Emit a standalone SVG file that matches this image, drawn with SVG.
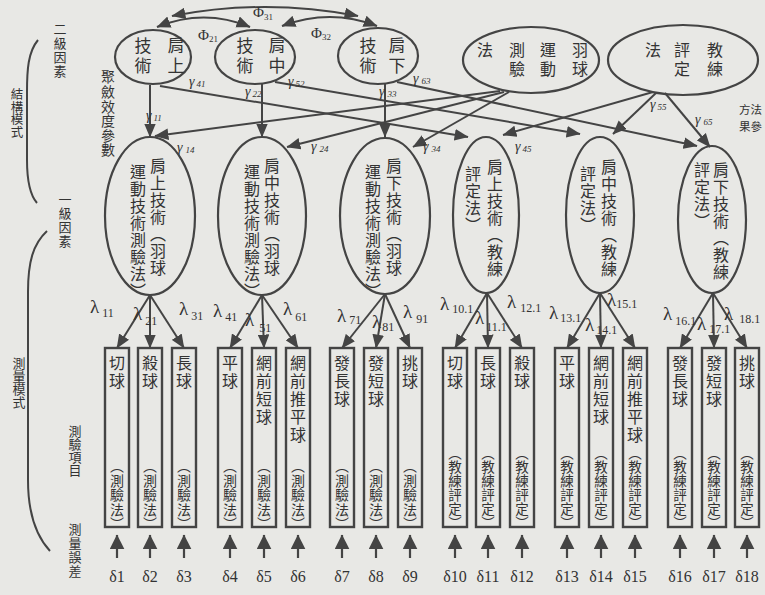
<svg xmlns="http://www.w3.org/2000/svg" width="765" height="595" viewBox="0 0 765 595">
<defs>
<style>
.bg{fill:#e8e8e5}
.ln{stroke:#444;stroke-width:2;fill:none}
.ar{stroke:#444;stroke-width:2;fill:none;marker-end:url(#ah)}
.ard{stroke:#444;stroke-width:2.2;fill:none;marker-end:url(#ahb)}
.ar2{stroke:#444;stroke-width:2;fill:none;marker-start:url(#ah);marker-end:url(#ah)}
.el{stroke:#444;stroke-width:2.2;fill:none}
.bx{stroke:#444;stroke-width:2.4;fill:none}
.cj{font-family:"Noto Sans CJK TC","Noto Sans CJK SC",sans-serif;fill:#333}
.v{writing-mode:vertical-rl}
.t17{font-size:17px;letter-spacing:3px}
.t16{font-size:16px;letter-spacing:1px}
.tn{font-size:16px;letter-spacing:2px}
.tm{font-size:14px;letter-spacing:0.5px}
.tk{font-size:13.5px;letter-spacing:0.6px}
.sd{font-size:13px;letter-spacing:1px}
.lat{font-family:"Liberation Serif",serif;fill:#333}
.lam{font-size:19px}
.ls{font-size:12px}
.gam{font-size:14px;font-style:italic}
.gs{font-size:9px}
.phi{font-size:15px}
.del{font-size:16px}
</style>
<marker id="ah" viewBox="0 0 12 10" refX="11.5" refY="5" markerWidth="14" markerHeight="12" markerUnits="userSpaceOnUse" orient="auto-start-reverse"><path d="M0,0 L12,5 L0,10 Z" fill="#444"/></marker>
<marker id="ahb" viewBox="0 0 12 12" refX="11.5" refY="6" markerWidth="15" markerHeight="15" markerUnits="userSpaceOnUse" orient="auto"><path d="M0,0 L12,6 L0,12 Z" fill="#444"/></marker>
</defs>
<rect class="bg" x="0" y="0" width="765" height="595"/>

<g id="side-labels">
<path class="ln" d="M38,40 C28,52 27,70 27,92 L27,160 C27,182 30,195 37,203"/>
<path class="ln" d="M47,231 C33,244 28,262 28,292 L28,480 C28,515 38,538 50,551"/>
<text class="cj v sd" x="60" y="23">二級因素</text>
<text class="cj v" style="font-size:12.5px" x="17" y="88">結構模式</text>
<text class="cj v" style="font-size:14px;letter-spacing:0.6px" x="108" y="70">聚斂效度參數</text>
<text class="cj v sd" x="65" y="193">一級因素</text>
<text class="cj v" style="font-size:13px" x="19" y="357">測量模式</text>
<text class="cj v" style="font-size:13px" x="75" y="425">測驗項目</text>
<text class="cj v sd" x="75" y="523">測量誤差</text>
<text class="cj" style="font-size:11.5px" x="739" y="114">方法</text>
<text class="cj" style="font-size:11.5px" x="739" y="131">果參</text>
</g>

<g id="connectors">
<!-- correlations -->
<path class="ar2" d="M172,16 Q265,-2 358,16"/>
<path class="ar2" d="M157,27 Q204,8 250,27"/>
<path class="ar2" d="M282,26 Q330,8 377,26"/>
<!-- gammas -->
<line class="ar" x1="150" y1="85" x2="150" y2="137"/>
<line class="ar" x1="262" y1="84" x2="262" y2="137"/>
<line class="ar" x1="385" y1="83" x2="385" y2="137"/>
<line class="ar" x1="160" y1="86" x2="468" y2="137"/>
<line class="ar" x1="275" y1="82" x2="580" y2="134"/>
<line class="ar" x1="397" y1="82" x2="697" y2="146"/>
<line class="ar" x1="500" y1="91" x2="155" y2="136"/>
<line class="ar" x1="504" y1="92" x2="287" y2="147"/>
<line class="ar" x1="509" y1="92" x2="413" y2="147"/>
<line class="ar" x1="653" y1="92" x2="503" y2="135"/>
<line class="ar" x1="656" y1="93" x2="613" y2="134"/>
<line class="ar" x1="665" y1="93" x2="710" y2="147"/>
<!-- lambdas -->
<line class="ar" x1="150" y1="295" x2="117" y2="348"/>
<line class="ar" x1="150" y1="295" x2="150" y2="348"/>
<line class="ar" x1="150" y1="295" x2="184" y2="348"/>
<line class="ar" x1="262" y1="295" x2="230" y2="348"/>
<line class="ar" x1="262" y1="295" x2="264" y2="348"/>
<line class="ar" x1="262" y1="295" x2="298" y2="348"/>
<line class="ar" x1="385" y1="294" x2="342" y2="348"/>
<line class="ar" x1="385" y1="294" x2="376" y2="348"/>
<line class="ar" x1="385" y1="294" x2="410" y2="348"/>
<line class="ar" x1="487" y1="293" x2="455" y2="348"/>
<line class="ar" x1="487" y1="293" x2="488" y2="348"/>
<line class="ar" x1="487" y1="293" x2="522" y2="348"/>
<line class="ar" x1="600" y1="293" x2="567" y2="348"/>
<line class="ar" x1="600" y1="293" x2="601" y2="348"/>
<line class="ar" x1="600" y1="293" x2="635" y2="348"/>
<line class="ar" x1="713" y1="293" x2="680" y2="348"/>
<line class="ar" x1="713" y1="293" x2="714" y2="348"/>
<line class="ar" x1="713" y1="293" x2="747" y2="348"/>
<!-- errors -->
<line class="ard" x1="117" y1="558" x2="117" y2="535"/>
<line class="ard" x1="150" y1="558" x2="150" y2="535"/>
<line class="ard" x1="184" y1="558" x2="184" y2="535"/>
<line class="ard" x1="230" y1="558" x2="230" y2="535"/>
<line class="ard" x1="264" y1="558" x2="264" y2="535"/>
<line class="ard" x1="298" y1="558" x2="298" y2="535"/>
<line class="ard" x1="342" y1="558" x2="342" y2="535"/>
<line class="ard" x1="376" y1="558" x2="376" y2="535"/>
<line class="ard" x1="410" y1="558" x2="410" y2="535"/>
<line class="ard" x1="455" y1="558" x2="455" y2="535"/>
<line class="ard" x1="488" y1="558" x2="488" y2="535"/>
<line class="ard" x1="522" y1="558" x2="522" y2="535"/>
<line class="ard" x1="567" y1="558" x2="567" y2="535"/>
<line class="ard" x1="601" y1="558" x2="601" y2="535"/>
<line class="ard" x1="635" y1="558" x2="635" y2="535"/>
<line class="ard" x1="680" y1="558" x2="680" y2="535"/>
<line class="ard" x1="714" y1="558" x2="714" y2="535"/>
<line class="ard" x1="747" y1="558" x2="747" y2="535"/>
</g>

<g id="connector-labels">
<text class="lat phi" x="198" y="40">Φ<tspan class="gs" dy="2">21</tspan></text>
<text class="lat phi" x="253" y="17">Φ<tspan class="gs" dy="3">31</tspan></text>
<text class="lat phi" x="311" y="38">Φ<tspan class="gs" dy="2">32</tspan></text>
<text class="lat gam" x="189" y="86">γ<tspan class="gs" dx="2" dy="1">41</tspan></text>
<text class="lat gam" x="288" y="86">γ<tspan class="gs" dx="2" dy="1">52</tspan></text>
<text class="lat gam" x="245" y="96">γ<tspan class="gs" dx="2" dy="1">22</tspan></text>
<text class="lat gam" x="379" y="96">γ<tspan class="gs" dx="3" dy="1">33</tspan></text>
<text class="lat gam" x="413" y="83">γ<tspan class="gs" dx="3" dy="1">63</tspan></text>
<text class="lat gam" x="146" y="120">γ<tspan class="gs" dx="2" dy="1">11</tspan></text>
<text class="lat gam" x="177" y="152">γ<tspan class="gs" dx="3" dy="1">14</tspan></text>
<text class="lat gam" x="311" y="151">γ<tspan class="gs" dx="3" dy="1">24</tspan></text>
<text class="lat gam" x="423" y="151">γ<tspan class="gs" dx="3" dy="1">34</tspan></text>
<text class="lat gam" x="515" y="151">γ<tspan class="gs" dx="2" dy="1">45</tspan></text>
<text class="lat gam" x="650" y="109">γ<tspan class="gs" dx="2" dy="1">55</tspan></text>
<text class="lat gam" x="695" y="124">γ<tspan class="gs" dx="3" dy="1">65</tspan></text>

<text class="lat lam" x="90" y="313">λ<tspan class="ls" dx="3" dy="4">11</tspan></text>
<text class="lat lam" x="133" y="320">λ<tspan class="ls" dx="3" dy="5">21</tspan></text>
<text class="lat lam" x="179" y="315">λ<tspan class="ls" dx="3" dy="5">31</tspan></text>
<text class="lat lam" x="213" y="317">λ<tspan class="ls" dx="3" dy="4">41</tspan></text>
<text class="lat lam" x="245" y="326">λ<tspan class="ls" dx="5" dy="6">51</tspan></text>
<text class="lat lam" x="283" y="315">λ<tspan class="ls" dx="3" dy="6">61</tspan></text>
<text class="lat lam" x="337" y="322">λ<tspan class="ls" dx="3" dy="2">71</tspan></text>
<text class="lat lam" x="372" y="328">λ<tspan class="ls" dx="1" dy="3">81</tspan></text>
<text class="lat lam" x="403" y="318">λ<tspan class="ls" dx="4" dy="5">91</tspan></text>
<text class="lat lam" x="440" y="310">λ<tspan class="ls" dx="3" dy="3">10.1</tspan></text>
<text class="lat lam" x="475" y="324">λ<tspan class="ls" dx="2" dy="7">11.1</tspan></text>
<text class="lat lam" x="507" y="308">λ<tspan class="ls" dx="4" dy="4">12.1</tspan></text>
<text class="lat lam" x="549" y="319">λ<tspan class="ls" dx="2" dy="3">13.1</tspan></text>
<text class="lat lam" x="585" y="331">λ<tspan class="ls" dx="2" dy="3">14.1</tspan></text>
<text class="lat lam" x="607" y="306">λ<tspan class="ls" dx="0" dy="2">15.1</tspan></text>
<text class="lat lam" x="663" y="320">λ<tspan class="ls" dx="3" dy="5">16.1</tspan></text>
<text class="lat lam" x="697" y="330">λ<tspan class="ls" dx="3" dy="3">17.1</tspan></text>
<text class="lat lam" x="724" y="320">λ<tspan class="ls" dx="6" dy="3">18.1</tspan></text>
</g>

<g id="factor-shoulder-high">
<ellipse class="el" cx="153" cy="57" rx="38" ry="27"/>
<text class="cj v t17" x="176" y="37">肩上</text>
<text class="cj v t17" x="143" y="37">技術</text>
</g>
<g id="factor-shoulder-mid">
<ellipse class="el" cx="255" cy="57" rx="40" ry="27"/>
<text class="cj v t17" x="277" y="37">肩中</text>
<text class="cj v t17" x="245" y="37">技術</text>
</g>
<g id="factor-shoulder-low">
<ellipse class="el" cx="378" cy="56" rx="40" ry="28"/>
<text class="cj v t17" x="397" y="37">肩下</text>
<text class="cj v t17" x="368" y="37">技術</text>
</g>
<g id="method-test">
<ellipse class="el" cx="531" cy="60" rx="68" ry="33"/>
<text class="cj v" style="font-size:16px;letter-spacing:3px" x="580" y="42">羽球</text>
<text class="cj v" style="font-size:16px;letter-spacing:3px" x="548" y="42">運動</text>
<text class="cj v" style="font-size:16px;letter-spacing:3px" x="517" y="42">測驗</text>
<text class="cj v" style="font-size:16px;letter-spacing:3px" x="485" y="42">法</text>
</g>
<g id="method-coach">
<ellipse class="el" cx="683" cy="60" rx="75" ry="35"/>
<text class="cj v" style="font-size:16px;letter-spacing:3px" x="715" y="42">教練</text>
<text class="cj v" style="font-size:16px;letter-spacing:3px" x="682" y="42">評定</text>
<text class="cj v" style="font-size:16px;letter-spacing:3px" x="653" y="42">法</text>
</g>

<g id="f1">
<ellipse class="el" cx="150" cy="216" rx="45" ry="79"/>
<text class="cj v t16" x="158" y="158">肩上技術（羽球</text>
<text class="cj v t16" x="138" y="164">運動技術測驗法）</text>
</g>
<g id="f2">
<ellipse class="el" cx="262" cy="216" rx="44" ry="79"/>
<text class="cj v t16" x="272" y="158">肩中技術（羽球</text>
<text class="cj v t16" x="252" y="164">運動技術測驗法）</text>
</g>
<g id="f3">
<ellipse class="el" cx="385" cy="216" rx="45" ry="78"/>
<text class="cj v t16" x="394" y="158">肩下技術（羽球</text>
<text class="cj v t16" x="373" y="164">運動技術測驗法）</text>
</g>
<g id="f4">
<ellipse class="el" cx="486" cy="215" rx="33" ry="78"/>
<text class="cj v t16" x="495" y="159">肩上技術（教練</text>
<text class="cj v t16" x="473" y="166">評定法）</text>
</g>
<g id="f5">
<ellipse class="el" cx="600" cy="215" rx="34" ry="78"/>
<text class="cj v t16" x="609" y="159">肩中技術（教練</text>
<text class="cj v t16" x="588" y="166">評定法）</text>
</g>
<g id="f6">
<ellipse class="el" cx="712" cy="219.5" rx="34" ry="73.5"/>
<text class="cj v t16" x="721" y="162">肩下技術（教練</text>
<text class="cj v t16" x="702" y="162">評定法）</text>
</g>

<g id="x1"><rect class="bx" x="105" y="348" width="24" height="179"/><text class="cj v tn" x="117" y="355">切球</text><text class="cj v tm" x="117" y="459">（測驗法）</text></g>
<g id="x2"><rect class="bx" x="138" y="348" width="24" height="179"/><text class="cj v tn" x="150" y="355">殺球</text><text class="cj v tm" x="150" y="459">（測驗法）</text></g>
<g id="x3"><rect class="bx" x="172" y="348" width="24" height="179"/><text class="cj v tn" x="184" y="355">長球</text><text class="cj v tm" x="184" y="459">（測驗法）</text></g>
<g id="x4"><rect class="bx" x="218" y="348" width="24" height="179"/><text class="cj v tn" x="230" y="355">平球</text><text class="cj v tm" x="230" y="459">（測驗法）</text></g>
<g id="x5"><rect class="bx" x="252" y="348" width="24" height="179"/><text class="cj v tn" x="264" y="355">網前短球</text><text class="cj v tm" x="264" y="459">（測驗法）</text></g>
<g id="x6"><rect class="bx" x="286" y="348" width="24" height="179"/><text class="cj v tn" x="298" y="355">網前推平球</text><text class="cj v tm" x="298" y="459">（測驗法）</text></g>
<g id="x7"><rect class="bx" x="330" y="348" width="24" height="179"/><text class="cj v tn" x="342" y="355">發長球</text><text class="cj v tm" x="342" y="459">（測驗法）</text></g>
<g id="x8"><rect class="bx" x="364" y="348" width="24" height="179"/><text class="cj v tn" x="376" y="355">發短球</text><text class="cj v tm" x="376" y="459">（測驗法）</text></g>
<g id="x9"><rect class="bx" x="398" y="348" width="24" height="179"/><text class="cj v tn" x="410" y="355">挑球</text><text class="cj v tm" x="410" y="459">（測驗法）</text></g>
<g id="x10"><rect class="bx" x="443" y="348" width="24" height="179"/><text class="cj v tn" x="455" y="355">切球</text><text class="cj v tk" x="455" y="446">（教練評定）</text></g>
<g id="x11"><rect class="bx" x="476" y="348" width="24" height="179"/><text class="cj v tn" x="488" y="355">長球</text><text class="cj v tk" x="488" y="446">（教練評定）</text></g>
<g id="x12"><rect class="bx" x="510" y="348" width="24" height="179"/><text class="cj v tn" x="522" y="355">殺球</text><text class="cj v tk" x="522" y="446">（教練評定）</text></g>
<g id="x13"><rect class="bx" x="555" y="348" width="24" height="179"/><text class="cj v tn" x="567" y="355">平球</text><text class="cj v tk" x="567" y="446">（教練評定）</text></g>
<g id="x14"><rect class="bx" x="589" y="348" width="24" height="179"/><text class="cj v tn" x="601" y="355">網前短球</text><text class="cj v tk" x="601" y="446">（教練評定）</text></g>
<g id="x15"><rect class="bx" x="623" y="348" width="24" height="179"/><text class="cj v tn" x="635" y="355">網前推平球</text><text class="cj v tk" x="635" y="446">（教練評定）</text></g>
<g id="x16"><rect class="bx" x="668" y="348" width="24" height="179"/><text class="cj v tn" x="680" y="355">發長球</text><text class="cj v tk" x="680" y="446">（教練評定）</text></g>
<g id="x17"><rect class="bx" x="702" y="348" width="24" height="179"/><text class="cj v tn" x="714" y="355">發短球</text><text class="cj v tk" x="714" y="446">（教練評定）</text></g>
<g id="x18"><rect class="bx" x="735" y="348" width="24" height="179"/><text class="cj v tn" x="747" y="355">挑球</text><text class="cj v tk" x="747" y="446">（教練評定）</text></g>

<g id="errors">
<text class="lat del" x="117" y="582" text-anchor="middle">δ1</text>
<text class="lat del" x="150" y="582" text-anchor="middle">δ2</text>
<text class="lat del" x="184" y="582" text-anchor="middle">δ3</text>
<text class="lat del" x="230" y="582" text-anchor="middle">δ4</text>
<text class="lat del" x="264" y="582" text-anchor="middle">δ5</text>
<text class="lat del" x="298" y="582" text-anchor="middle">δ6</text>
<text class="lat del" x="342" y="582" text-anchor="middle">δ7</text>
<text class="lat del" x="376" y="582" text-anchor="middle">δ8</text>
<text class="lat del" x="410" y="582" text-anchor="middle">δ9</text>
<text class="lat del" x="455" y="582" text-anchor="middle">δ10</text>
<text class="lat del" x="488" y="582" text-anchor="middle">δ11</text>
<text class="lat del" x="522" y="582" text-anchor="middle">δ12</text>
<text class="lat del" x="567" y="582" text-anchor="middle">δ13</text>
<text class="lat del" x="601" y="582" text-anchor="middle">δ14</text>
<text class="lat del" x="635" y="582" text-anchor="middle">δ15</text>
<text class="lat del" x="680" y="582" text-anchor="middle">δ16</text>
<text class="lat del" x="714" y="582" text-anchor="middle">δ17</text>
<text class="lat del" x="747" y="582" text-anchor="middle">δ18</text>
</g>
</svg>
